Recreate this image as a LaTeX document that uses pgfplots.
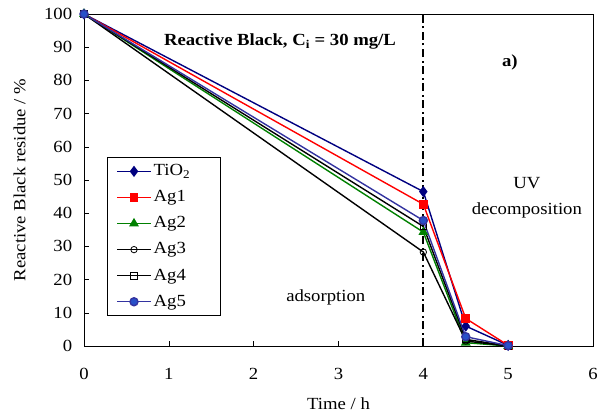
\documentclass[border=0pt]{standalone}
\usepackage{fontspec}
\setmainfont{Liberation Serif}[FakeStretch=1.1]
\usepackage{pgfplots}
\pgfplotsset{compat=1.18}
\definecolor{tio}{RGB}{0,0,128}
\definecolor{agfive}{RGB}{51,51,160}
\definecolor{agfivefill}{RGB}{40,80,200}
\definecolor{agtwo}{RGB}{0,128,0}
\begin{document}
\fontsize{17bp}{20bp}\selectfont
\begin{tikzpicture}
\begin{axis}[name=ax,
  scale only axis, width=509bp, height=332bp,
  xmin=0, xmax=6, ymin=0, ymax=100,
  xtick={0,1,...,6}, ytick={0,10,...,100},
  tick align=inside, tick style={black, line width=0.6pt}, major tick length=5bp,
  xtick pos=bottom, ytick pos=left,
  axis line style={black, line width=1pt},
  /pgf/number format/assume math mode=true,
  ticklabel style={font=\fontsize{17bp}{20bp}\selectfont},
  xticklabel style={yshift=-16bp},
  yticklabel style={xshift=-6bp},
  xlabel={Time / h}, ylabel={Reactive Black residue / \%},
  label style={font=\fontsize{17bp}{20bp}\selectfont},
  xlabel style={yshift=-7bp},
  ylabel style={yshift=7bp},
  clip=false,
  legend style={at={(0.045,0.569)}, anchor=north west, draw=black, line width=0.8pt,
    font=\fontsize{17bp}{20bp}\selectfont, row sep=8.3bp, inner xsep=9bp, inner ysep=5bp,
    cells={anchor=west}},
  legend image code/.code={\draw[mark repeat=2,mark phase=2,#1] plot coordinates {(0bp,0bp) (17bp,0bp) (34bp,0bp)};},
]
\addplot[tio, line width=1.4pt, mark=diamond*, mark size=4.5bp, mark options={fill=tio}]
 coordinates {(0,100) (4,46.5) (4.5,6) (5,0.2)};
\addplot[red, line width=1.4pt, mark=square*, mark size=3.8bp, mark options={fill=red}]
 coordinates {(0,100) (4,42.7) (4.5,8.3) (5,0.2)};
\addplot[agtwo, line width=1.4pt, mark=triangle*, mark size=4.3bp, mark options={fill=agtwo}]
 coordinates {(0,100) (4,34.3) (4.5,1) (5,0)};
\addplot[black, line width=1.4pt, mark=o, mark size=3.2bp, mark options={fill=white, line width=0.8pt}]
 coordinates {(0,100) (4,28.3) (4.5,1.5) (5,0)};
\addplot[black, line width=1.4pt, mark=square, mark size=3.2bp, mark options={fill=white, line width=0.8pt}]
 coordinates {(0,100) (4,36) (4.5,2) (5,0)};
\addplot[agfive, line width=1.4pt, mark=*, mark size=4bp, mark options={fill=agfivefill, draw=agfive}]
 coordinates {(0,100) (4,37.8) (4.5,2.8) (5,0.1)};
\legend{\makebox[56bp][l]{TiO\textsubscript{2}}, Ag1, Ag2, Ag3, Ag4, Ag5}
\addplot[black, line width=2.2pt, dash pattern=on 8bp off 3.5bp on 2bp off 3.5bp, forget plot] coordinates {(4,0) (4,100)};
\node[font=\bfseries\fontsize{17bp}{20bp}\selectfont] at (axis cs:2.31,91.6) {Reactive Black, C\textsubscript{i} = 30 mg/L};
\node[font=\bfseries\fontsize{17bp}{20bp}\selectfont] at (axis cs:5.02,85.5) {a)};
\node at (axis cs:5.22,49) {UV};
\node at (axis cs:5.22,40.7) {decomposition};
\node at (axis cs:2.85,14.5) {adsorption};
\end{axis}
\pgfresetboundingbox
\path[use as bounding box] ([xshift=-84bp,yshift=-69bp]ax.south west) rectangle ([xshift=6bp,yshift=14bp]ax.north east);
\end{tikzpicture}
\end{document}
